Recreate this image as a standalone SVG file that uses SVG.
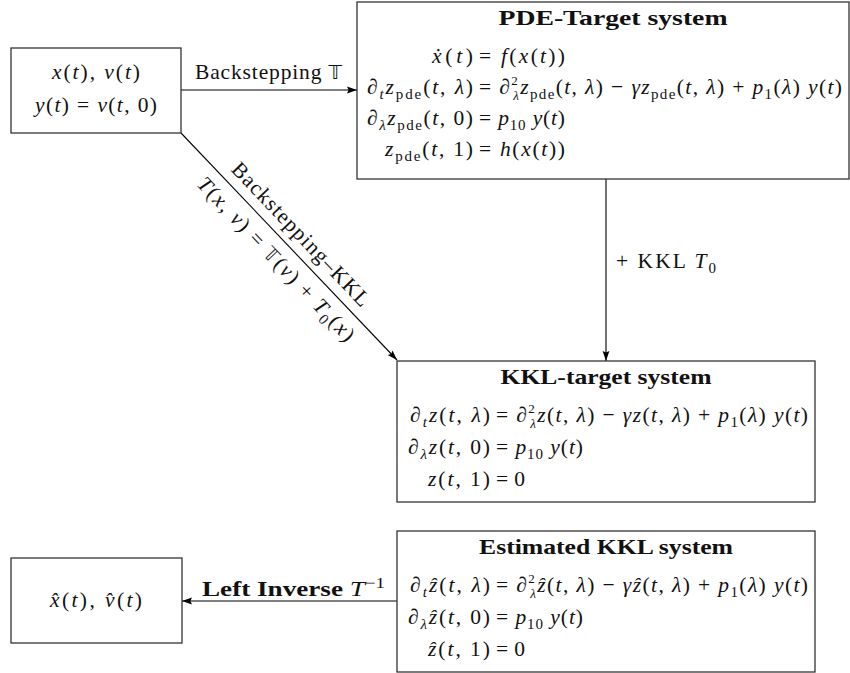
<svg xmlns="http://www.w3.org/2000/svg" width="850" height="673" viewBox="0 0 850 673">
<style>
.m { font-family: "Liberation Serif","DejaVu Serif",serif; font-size: 21.5px; fill: #111; }
.i { font-style: italic; }
.b { font-weight: bold; }
.sb { font-size: 15px; }
.ss { font-size: 13px; }
.bb { font-family: "DejaVu Sans","DejaVu Serif","Noto Sans",sans-serif; font-size: 19px; }
.box { fill: #fff; stroke: #333; stroke-width: 1.3; }
.c { fill: none; stroke: #000; stroke-width: 1.1; marker-end: url(#ah); }
</style>
<defs>
<marker id="ah" viewBox="0 0 10 8" refX="10" refY="4" markerWidth="10" markerHeight="8" markerUnits="userSpaceOnUse" orient="auto">
<path d="M0,0.6 L10,4 L0,7.4 L1.6,4 z" fill="#000"/>
</marker>
</defs>
<rect width="850" height="673" fill="#fff"/>

<g id="connectors">
<line class="c" x1="181" y1="90" x2="357" y2="90"/>
<line class="c" x1="606" y1="179" x2="606" y2="361"/>
<line class="c" x1="181" y1="133" x2="397" y2="360"/>
<line class="c" x1="397" y1="601" x2="182" y2="601"/>
<text class="m" x="195" y="79" textLength="147">Backstepping <tspan class="bb">𝕋</tspan></text>
<text class="m" x="616" y="268" textLength="100">+ KKL <tspan class="i">T</tspan><tspan class="sb" dy="5">0</tspan></text>
<g transform="translate(181,133) rotate(46.42)">
<text class="m" x="156" y="-10" text-anchor="middle" textLength="190">Backstepping–KKL</text>
<text class="m" x="157" y="25" text-anchor="middle" textLength="218"><tspan class="i">T</tspan>(<tspan class="i">x</tspan>, <tspan class="i">v</tspan>) = <tspan class="bb">𝕋</tspan>(<tspan class="i">v</tspan>) + <tspan class="i">T</tspan><tspan class="sb" dy="5">0</tspan><tspan dy="-5">(</tspan><tspan class="i">x</tspan>)</text>
</g>
<text class="m b" x="202" y="596" textLength="183" lengthAdjust="spacingAndGlyphs">Left Inverse <tspan class="i" font-weight="normal">T</tspan><tspan class="sb" font-weight="normal" dy="-8">−1</tspan></text>
</g>

<g id="node-input">
<rect class="box" x="11" y="48" width="170" height="85"/>
<text class="m" x="96" y="79" text-anchor="middle" textLength="88"><tspan class="i">x</tspan>(<tspan class="i">t</tspan>), <tspan class="i">v</tspan>(<tspan class="i">t</tspan>)</text>
<text class="m" x="96" y="112" text-anchor="middle" textLength="122"><tspan class="i">y</tspan>(<tspan class="i">t</tspan>) = <tspan class="i">v</tspan>(<tspan class="i">t</tspan>, 0)</text>
</g>

<g id="node-pde">
<rect class="box" x="357" y="2" width="492" height="177"/>
<text class="m b" x="613" y="25" text-anchor="middle" textLength="229" lengthAdjust="spacingAndGlyphs">PDE-Target system</text>
<text class="m" x="473" y="63" text-anchor="end" textLength="41"><tspan class="i">ẋ</tspan>(<tspan class="i">t</tspan>)</text>
<text class="m" x="479" y="63" textLength="86">= <tspan class="i">f</tspan>(<tspan class="i">x</tspan>(<tspan class="i">t</tspan>))</text>
<text class="m" x="473" y="94" text-anchor="end" textLength="106">∂<tspan class="sb i" dy="5">t</tspan><tspan class="i" dy="-5">z</tspan><tspan class="sb" dy="5">pde</tspan><tspan dy="-5">(</tspan><tspan class="i">t</tspan>, <tspan class="i">λ</tspan>)</text>
<text class="m" x="479" y="94" textLength="363">= ∂<tspan class="ss" dy="-9">2</tspan><tspan class="ss i" dx="-6" dy="15">λ</tspan><tspan class="i" dy="-6">z</tspan><tspan class="sb" dy="5">pde</tspan><tspan dy="-5">(</tspan><tspan class="i">t</tspan>, <tspan class="i">λ</tspan>) − <tspan class="i">γz</tspan><tspan class="sb" dy="5">pde</tspan><tspan dy="-5">(</tspan><tspan class="i">t</tspan>, <tspan class="i">λ</tspan>) + <tspan class="i">p</tspan><tspan class="sb" dy="5">1</tspan><tspan dy="-5">(</tspan><tspan class="i">λ</tspan>) <tspan class="i">y</tspan>(<tspan class="i">t</tspan>)</text>
<text class="m" x="473" y="125" text-anchor="end" textLength="106">∂<tspan class="sb i" dy="5">λ</tspan><tspan class="i" dy="-5">z</tspan><tspan class="sb" dy="5">pde</tspan><tspan dy="-5">(</tspan><tspan class="i">t</tspan>, 0)</text>
<text class="m" x="479" y="125" textLength="86">= <tspan class="i">p</tspan><tspan class="sb" dy="5">10</tspan> <tspan class="i" dy="-5">y</tspan>(<tspan class="i">t</tspan>)</text>
<text class="m" x="473" y="156" text-anchor="end" textLength="88"><tspan class="i">z</tspan><tspan class="sb" dy="5">pde</tspan><tspan dy="-5">(</tspan><tspan class="i">t</tspan>, 1)</text>
<text class="m" x="479" y="156" textLength="86">= <tspan class="i">h</tspan>(<tspan class="i">x</tspan>(<tspan class="i">t</tspan>))</text>
</g>

<g id="node-kkl">
<rect class="box" x="397" y="361" width="418" height="141"/>
<text class="m b" x="606" y="384" text-anchor="middle" textLength="211" lengthAdjust="spacingAndGlyphs">KKL-target system</text>
<text class="m" x="490" y="422" text-anchor="end" textLength="80">∂<tspan class="sb i" dy="5">t</tspan><tspan class="i" dy="-5">z</tspan>(<tspan class="i">t</tspan>, <tspan class="i">λ</tspan>)</text>
<text class="m" x="496" y="422" textLength="312">= ∂<tspan class="ss" dy="-9">2</tspan><tspan class="ss i" dx="-6" dy="15">λ</tspan><tspan class="i" dy="-6">z</tspan>(<tspan class="i">t</tspan>, <tspan class="i">λ</tspan>) − <tspan class="i">γz</tspan>(<tspan class="i">t</tspan>, <tspan class="i">λ</tspan>) + <tspan class="i">p</tspan><tspan class="sb" dy="5">1</tspan><tspan dy="-5">(</tspan><tspan class="i">λ</tspan>) <tspan class="i">y</tspan>(<tspan class="i">t</tspan>)</text>
<text class="m" x="490" y="454" text-anchor="end" textLength="82">∂<tspan class="sb i" dy="5">λ</tspan><tspan class="i" dy="-5">z</tspan>(<tspan class="i">t</tspan>, 0)</text>
<text class="m" x="496" y="454" textLength="87">= <tspan class="i">p</tspan><tspan class="sb" dy="5">10</tspan> <tspan class="i" dy="-5">y</tspan>(<tspan class="i">t</tspan>)</text>
<text class="m" x="490" y="486" text-anchor="end" textLength="62"><tspan class="i">z</tspan>(<tspan class="i">t</tspan>, 1)</text>
<text class="m" x="496" y="486" textLength="29">= 0</text>
</g>

<g id="node-estimated">
<rect class="box" x="397" y="531" width="418" height="141"/>
<text class="m b" x="606" y="554" text-anchor="middle" textLength="254" lengthAdjust="spacingAndGlyphs">Estimated KKL system</text>
<text class="m" x="490" y="592" text-anchor="end" textLength="80">∂<tspan class="sb i" dy="5">t</tspan><tspan class="i" dy="-5">ẑ</tspan>(<tspan class="i">t</tspan>, <tspan class="i">λ</tspan>)</text>
<text class="m" x="496" y="592" textLength="312">= ∂<tspan class="ss" dy="-9">2</tspan><tspan class="ss i" dx="-6" dy="15">λ</tspan><tspan class="i" dy="-6">ẑ</tspan>(<tspan class="i">t</tspan>, <tspan class="i">λ</tspan>) − <tspan class="i">γẑ</tspan>(<tspan class="i">t</tspan>, <tspan class="i">λ</tspan>) + <tspan class="i">p</tspan><tspan class="sb" dy="5">1</tspan><tspan dy="-5">(</tspan><tspan class="i">λ</tspan>) <tspan class="i">y</tspan>(<tspan class="i">t</tspan>)</text>
<text class="m" x="490" y="624" text-anchor="end" textLength="82">∂<tspan class="sb i" dy="5">λ</tspan><tspan class="i" dy="-5">ẑ</tspan>(<tspan class="i">t</tspan>, 0)</text>
<text class="m" x="496" y="624" textLength="87">= <tspan class="i">p</tspan><tspan class="sb" dy="5">10</tspan> <tspan class="i" dy="-5">y</tspan>(<tspan class="i">t</tspan>)</text>
<text class="m" x="490" y="656" text-anchor="end" textLength="62"><tspan class="i">ẑ</tspan>(<tspan class="i">t</tspan>, 1)</text>
<text class="m" x="496" y="656" textLength="29">= 0</text>
</g>

<g id="node-output">
<rect class="box" x="11" y="558" width="171" height="85"/>
<text class="m" x="96" y="607" text-anchor="middle" textLength="92"><tspan class="i">x̂</tspan>(<tspan class="i">t</tspan>), <tspan class="i">v̂</tspan>(<tspan class="i">t</tspan>)</text>
</g>
</svg>
